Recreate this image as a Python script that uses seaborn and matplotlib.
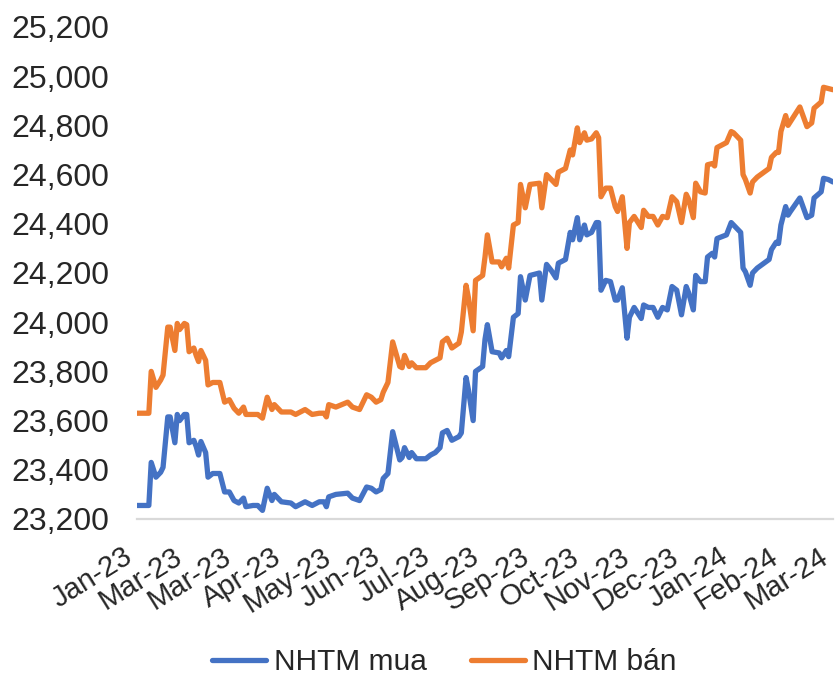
import pandas as pd
import matplotlib
matplotlib.use('Agg')
import matplotlib.pyplot as plt
from matplotlib.ticker import FuncFormatter
import seaborn as sns

# observation number on the category axis (daily quotes)
obs = [0, 5, 6, 8, 10, 11, 13, 14, 16, 17, 18, 20, 21, 22, 24, 25, 26, 27, 29, 30,
       32, 35, 37, 39, 41, 43, 45, 46, 49, 51, 53, 55, 57, 58, 59, 61, 65, 67, 71, 74,
       77, 79, 80, 81, 84, 89, 91, 94, 97, 99, 101, 103, 104, 106, 108, 111, 112, 113, 115, 116,
       118, 122, 124, 126, 128, 129, 131, 133, 136, 137, 139, 140, 142, 143, 146, 147, 148, 150, 153, 154,
       156, 157, 159, 161, 162, 164, 166, 170, 171, 173, 175, 177, 178, 181, 183, 184, 186, 187, 189, 190,
       192, 194, 195, 196, 198, 200, 202, 203, 205, 207, 208, 210, 213, 214, 216, 218, 220, 222, 224, 226,
       228, 230, 232, 233, 235, 236, 238, 240, 241, 243, 244, 245, 249, 251, 252, 255, 256, 257, 259, 260,
       262, 267, 268, 270, 271, 272, 274, 275, 276, 280, 283, 285, 286, 289, 290, 292, 294]

nhtm_mua = [23255, 23255, 23430, 23370, 23390, 23410, 23615, 23615, 23510, 23625, 23600, 23625, 23625, 23510, 23520, 23495, 23460, 23515, 23470, 23370,
            23385, 23385, 23310, 23310, 23275, 23265, 23285, 23250, 23255, 23255, 23235, 23325, 23275, 23300, 23290, 23270, 23265, 23250, 23270, 23255,
            23270, 23270, 23250, 23290, 23300, 23305, 23285, 23275, 23330, 23325, 23310, 23320, 23365, 23385, 23555, 23440, 23450, 23490, 23450, 23470,
            23445, 23445, 23460, 23470, 23490, 23550, 23560, 23520, 23535, 23550, 23775, 23725, 23600, 23800, 23820, 23930, 23990, 23880, 23875, 23855,
            23885, 23860, 24020, 24035, 24185, 24090, 24190, 24200, 24090, 24235, 24210, 24180, 24240, 24255, 24365, 24335, 24425, 24335, 24395, 24355,
            24365, 24405, 24405, 24130, 24170, 24165, 24090, 24090, 24140, 23935, 24020, 24060, 24015, 24070, 24060, 24060, 24020, 24060, 24050, 24145,
            24130, 24030, 24145, 24120, 24050, 24190, 24165, 24165, 24265, 24280, 24265, 24340, 24355, 24405, 24395, 24365, 24220, 24205, 24150, 24200,
            24220, 24255, 24295, 24325, 24320, 24395, 24470, 24435, 24450, 24505, 24425, 24435, 24505, 24530, 24585, 24580, 24570]

nhtm_ban = [23630, 23630, 23800, 23735, 23765, 23785, 23980, 23980, 23885, 23995, 23970, 23995, 23990, 23880, 23895, 23865, 23840, 23885, 23845, 23745,
            23755, 23755, 23675, 23685, 23650, 23630, 23655, 23625, 23625, 23625, 23610, 23695, 23645, 23665, 23655, 23635, 23635, 23625, 23645, 23625,
            23630, 23630, 23615, 23665, 23655, 23675, 23655, 23645, 23705, 23695, 23675, 23685, 23715, 23755, 23920, 23820, 23815, 23865, 23820, 23835,
            23815, 23815, 23835, 23845, 23855, 23920, 23935, 23895, 23915, 23960, 24150, 24100, 23965, 24170, 24190, 24265, 24355, 24245, 24245, 24225,
            24260, 24220, 24395, 24405, 24560, 24465, 24560, 24565, 24465, 24600, 24580, 24560, 24610, 24625, 24700, 24680, 24790, 24730, 24770, 24740,
            24745, 24770, 24750, 24510, 24545, 24545, 24470, 24450, 24510, 24300, 24405, 24430, 24385, 24455, 24430, 24430, 24395, 24430, 24425, 24510,
            24490, 24405, 24520, 24500, 24425, 24565, 24530, 24525, 24640, 24645, 24635, 24710, 24730, 24775, 24770, 24740, 24600, 24580, 24525, 24570,
            24590, 24625, 24670, 24690, 24690, 24775, 24840, 24800, 24815, 24875, 24795, 24810, 24870, 24895, 24955, 24950, 24945]

tick_obs = [0, 21, 42, 63, 84, 105, 126, 147, 168, 189, 210, 231, 252, 273, 294]
tick_labels = ['Jan-23', 'Mar-23', 'Mar-23', 'Apr-23', 'May-23', 'Jun-23', 'Jul-23', 'Aug-23',
               'Sep-23', 'Oct-23', 'Nov-23', 'Dec-23', 'Jan-24', 'Feb-24', 'Mar-24']

df = pd.DataFrame({'obs': obs, 'NHTM mua': nhtm_mua, 'NHTM bán': nhtm_ban})

sns.set_style('white')
plt.rcParams['font.family'] = ['Liberation Sans', 'DejaVu Sans']

fig = plt.figure(figsize=(8.39, 6.79), dpi=100)
ax = fig.add_axes([137 / 839, 1 - 519 / 679, (833 - 137) / 839, (519 - 27) / 679])

sns.lineplot(data=df, x='obs', y='NHTM mua', color='#4472C4', linewidth=3.8, label='NHTM mua', ax=ax)
sns.lineplot(data=df, x='obs', y='NHTM bán', color='#ED7D31', linewidth=3.8, label='NHTM bán', ax=ax)

ax.set_xlim(0, 294)
ax.set_ylim(23200, 25200)
ax.set_yticks(range(23200, 25201, 200))
ax.yaxis.set_major_formatter(FuncFormatter(lambda v, p: '{:,.0f}'.format(v)))
ax.set_xticks(tick_obs)
ax.set_xticklabels(tick_labels, rotation=32, ha='right', va='top', rotation_mode='default')
ax.tick_params(axis='both', length=0)
ax.tick_params(axis='x', pad=17, labelsize=21)
ax.tick_params(axis='y', pad=20, labelsize=23)
ax.set_xlabel('')
ax.set_ylabel('')
for side in ['left', 'right', 'top']:
    ax.spines[side].set_visible(False)
ax.spines['bottom'].set_color('#D9D9D9')
ax.spines['bottom'].set_linewidth(1.6)

ax.get_legend().remove()
handles, labels = ax.get_legend_handles_labels()
fig.legend(handles, labels, loc='center', bbox_to_anchor=(0.53, 1 - 662 / 679), ncol=2,
           frameon=False, fontsize=21.5, handlelength=1.8, columnspacing=1.5, handletextpad=0.25)

fig.savefig('out.png', dpi=100)
